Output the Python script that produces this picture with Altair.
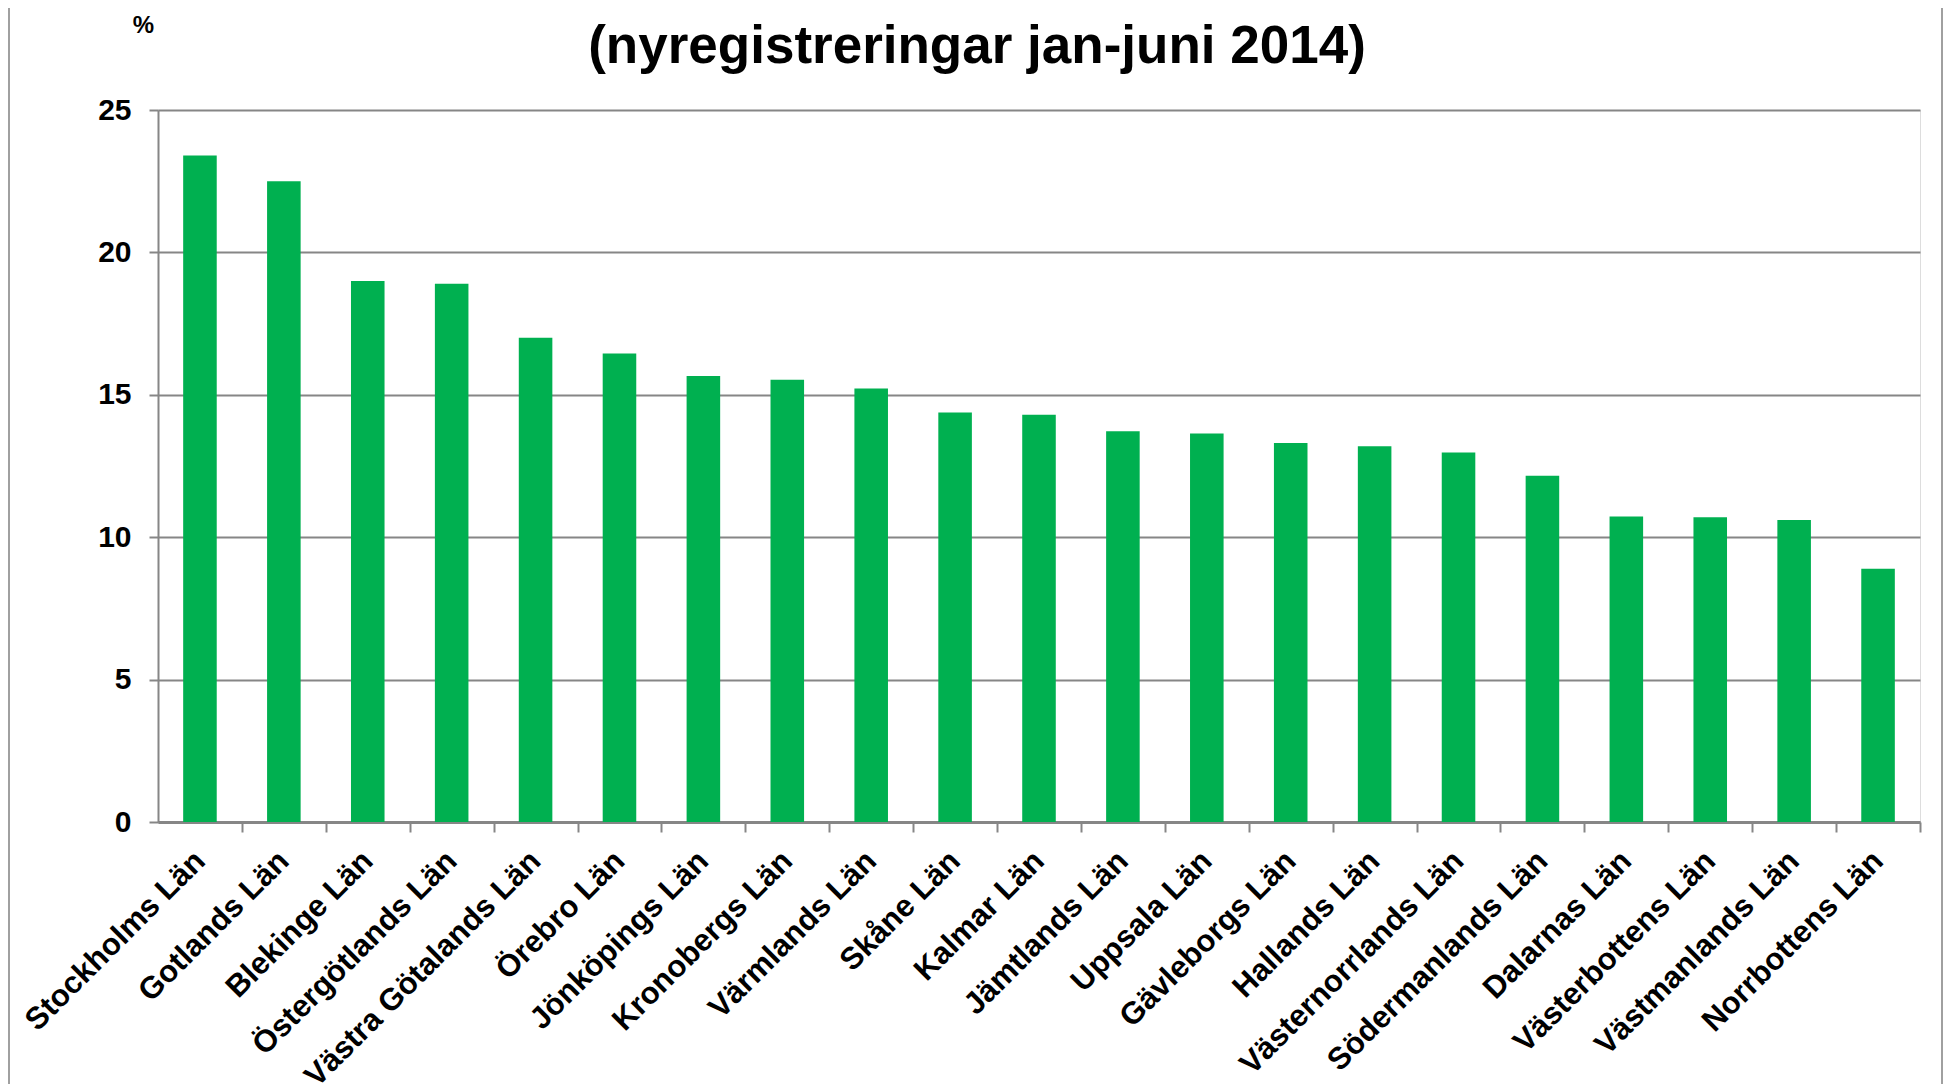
import altair as alt
import pandas as pd

lan = ["Stockholms Län", "Gotlands Län", "Blekinge Län", "Östergötlands Län",
       "Västra Götalands Län", "Örebro Län", "Jönköpings Län", "Kronobergs Län",
       "Värmlands Län", "Skåne Län", "Kalmar Län", "Jämtlands Län", "Uppsala Län",
       "Gävleborgs Län", "Hallands Län", "Västernorrlands Län", "Södermanlands Län",
       "Dalarnas Län", "Västerbottens Län", "Västmanlands Län", "Norrbottens Län"]
andel = [23.4, 22.5, 19.0, 18.9, 17.0, 16.45, 15.66, 15.53, 15.22, 14.38, 14.3,
         13.72, 13.64, 13.31, 13.19, 12.97, 12.16, 10.73, 10.7, 10.6, 8.89]
y_ticks = [0, 5, 10, 15, 20, 25]
title_text = "(nyregistreringar jan-juni 2014)"
unit_text = "%"

df = pd.DataFrame({"lan": lan, "andel": andel})
tdf = pd.DataFrame({"t": [title_text]})

FONT = "Liberation Sans"
GRID = "#868686"
W, H = 1762, 712
HALF_STEP = W / len(lan) / 2

bars = alt.Chart(df).mark_bar(color="#00B050").encode(
    x=alt.X("lan:N", sort=lan, title=None,
            scale=alt.Scale(paddingInner=0.6, paddingOuter=0.3),
            axis=alt.Axis(labelAngle=-45, labelAlign="right", labelBaseline="middle",
                          labelFont=FONT, labelFontSize=31, labelFontWeight="bold",
                          labelColor="black", labelPadding=24, labelOverlap=False,
                          labelLimit=0,
                          tickOffset=HALF_STEP, labelOffset=-HALF_STEP,
                          tickSize=10, tickColor=GRID, tickWidth=2,
                          domainColor=GRID, domainWidth=3, grid=False)),
    y=alt.Y("andel:Q", title=unit_text,
            scale=alt.Scale(domain=[0, 25], nice=False),
            axis=alt.Axis(values=y_ticks, labelFont=FONT, labelFontSize=30,
                          labelFontWeight="bold", labelColor="black", labelPadding=18,
                          tickSize=9, tickColor=GRID, tickWidth=2,
                          domainColor=GRID, domainWidth=2,
                          grid=True, gridColor=GRID, gridWidth=2,
                          titleAngle=0, titleX=-15, titleY=-85, titleAlign="center",
                          titleBaseline="middle", titleFont=FONT, titleFontSize=24,
                          titleFontWeight="bold", titleColor="black")),
)

title = alt.Chart(tdf).mark_text(font=FONT, fontSize=53, fontWeight="bold",
                                 color="black", align="center",
                                 baseline="alphabetic").encode(
    text="t:N", x=alt.value(819), y=alt.value(-47)
)

frame = alt.Chart(df).mark_rule(color="#A0A0A0", strokeWidth=2).encode(
    x=alt.value(-149), y=alt.value(-102), y2=alt.value(H + 262)
)
frame_r = alt.Chart(df).mark_rule(color="#A0A0A0", strokeWidth=2).encode(
    x=alt.value(W + 22), y=alt.value(-102), y2=alt.value(H + 262)
)

chart = alt.layer(bars, title, frame, frame_r).properties(
    width=W, height=H,
    autosize=alt.AutoSizeParams(type="none"),
    padding={"left": 150, "top": 102, "right": 23, "bottom": 262},
).configure_view(stroke=None).configure(background="white")

chart.save("out.html", embed_options={"renderer": "svg", "actions": False})
